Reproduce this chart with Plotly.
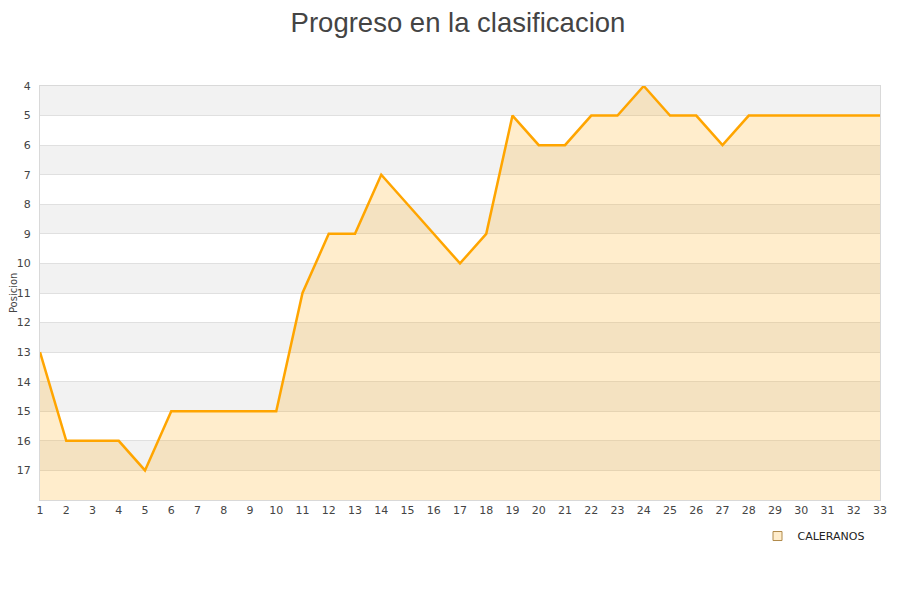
import plotly.graph_objects as go

jornadas = list(range(1, 34))
posiciones = [13, 16, 16, 16, 17, 15, 15, 15, 15, 15, 11, 9, 9, 7, 8, 9, 10, 9,
              5, 6, 6, 5, 5, 4, 5, 5, 6, 5, 5, 5, 5, 5, 5]
equipo = "CALERANOS"
y_ticks = list(range(4, 18))
y_min, y_max = 4, 18

fig = go.Figure()

# alternating background bands
shapes = []
for v in range(y_min, y_max):
    shapes.append(dict(type="rect", xref="paper", yref="y", x0=0, x1=1, y0=v, y1=v + 1,
                       fillcolor="#f2f2f2" if v % 2 == 0 else "#ffffff",
                       line=dict(width=0), layer="below"))

fig.add_trace(go.Scatter(x=jornadas, y=[y_max] * len(jornadas), mode="lines",
                         line=dict(width=0, color="rgba(0,0,0,0)"),
                         showlegend=False, hoverinfo="skip"))
fig.add_trace(go.Scatter(x=jornadas, y=posiciones, mode="lines", fill="tonexty",
                         fillcolor="rgba(255,165,0,0.2)",
                         line=dict(color="#ffa500", width=2.5),
                         name=equipo, showlegend=False))
fig.add_trace(go.Scatter(x=[None], y=[None], mode="markers", name=equipo,
                         marker=dict(symbol="square", size=9, color="#ffedcc",
                                     line=dict(color="#b08a4a", width=1))))

fig.update_layout(
    width=900, height=600,
    margin=dict(l=32, r=28, t=78, b=108, autoexpand=False),
    paper_bgcolor="white", plot_bgcolor="white",
    title=dict(text="Progreso en la clasificacion", x=0.5, xanchor="center",
               y=0.992, yanchor="top",
               font=dict(family="Liberation Sans, Arial", size=27.5, color="#444444")),
    font=dict(family="DejaVu Sans", size=11, color="#444444"),
    shapes=shapes,
    showlegend=True,
    legend=dict(x=0.9875, xanchor="right", y=-0.087, yanchor="middle",
                orientation="h", font=dict(size=11, color="#222222"),
                bgcolor="rgba(0,0,0,0)"),
    annotations=[dict(text="Posicion", xref="paper", yref="paper", x=-0.032, y=0.5,
                      xanchor="center", yanchor="middle", textangle=-90, showarrow=False,
                      font=dict(size=10, color="#444444"))],
)
fig.update_xaxes(range=[1, 33], tickmode="array", tickvals=jornadas,
                 ticktext=[str(j) for j in jornadas], showgrid=False, zeroline=False,
                 showline=True, linecolor="#d9d9d9", mirror=True, ticks="",
                 automargin=False,
                 tickfont=dict(size=11, color="#444444"))
fig.update_yaxes(range=[y_max, y_min], tickmode="array", tickvals=y_ticks,
                 ticktext=[str(t) for t in y_ticks], showgrid=True, gridcolor="#e0e0e0",
                 zeroline=False, showline=True, linecolor="#d9d9d9", mirror=True,
                 ticks="", ticklabelstandoff=6, automargin=False,
                 tickfont=dict(size=11, color="#444444"))

fig.write_html("out.html")
